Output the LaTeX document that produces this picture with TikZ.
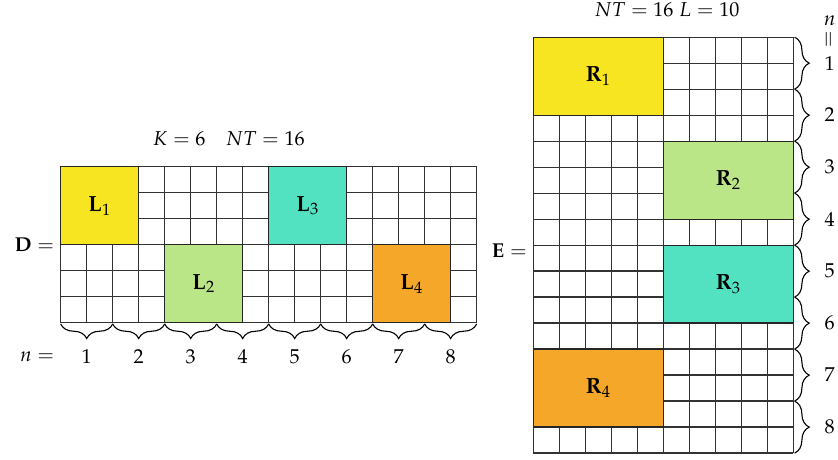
\documentclass[tikz,border=0pt]{standalone}
\usepackage{amsmath}
\usepackage{mathpazo}
\usetikzlibrary{decorations.pathreplacing}

\definecolor{blkyellow}{RGB}{246,229,32}
\definecolor{blkgreen}{RGB}{186,230,136}
\definecolor{blkteal}{RGB}{82,226,194}
\definecolor{blkorange}{RGB}{244,167,40}

\begin{document}
\begin{tikzpicture}[x=0.5cm, y=0.5cm, font=\fontsize{11}{13}\selectfont,
	gridline/.style={draw=black!80, line width=0.7pt},
	blockbox/.style={draw=black!85, line width=0.7pt},
	bracestyle/.style={decorate, decoration={brace, amplitude=8pt}, line width=0.6pt}]
	\useasboundingbox (-2.335,-5.28) rectangle (29.90,12.41);

	% Matriz D (16 x 6)
	\draw[gridline, step=1] (0,0) grid (16,6);
	\filldraw[blockbox, fill=blkyellow] (0,3) rectangle (3,6);
	\filldraw[blockbox, fill=blkgreen] (4,0) rectangle (7,3);
	\filldraw[blockbox, fill=blkteal] (8,3) rectangle (11,6);
	\filldraw[blockbox, fill=blkorange] (12,0) rectangle (15,3);
	\node (L1) at (1.5,4.5) {\large$\mathbf{L}_1$};
	\node (L2) at (5.5,1.5) {\large$\mathbf{L}_2$};
	\node (L3) at (9.5,4.5) {\large$\mathbf{L}_3$};
	\node (L4) at (13.5,1.5) {\large$\mathbf{L}_4$};

	\node[left] (Dlabel) at (0,3) {$\mathbf{D} =$};
	\node (Dtitle) at (6.47,7.07) {$K = 6 \quad NT = 16$};

	% Llaves inferiores
	\foreach \k in {1,...,8} {
		\draw[bracestyle, decoration={mirror}] ({2*\k-2},-0.05) -- ({2*\k},-0.05);
		\node (nb\k) at ({2*\k-1},-1.32) {$\k$};
	}
	\node (nbeq) at (-0.91,-1.32) {$n =$};

	% Matriz E (10 x 16)
	\begin{scope}[shift={(18.18,-5.02)}]
		\draw[gridline, step=1] (0,0) grid (10,16);
		\filldraw[blockbox, fill=blkyellow] (0,13) rectangle (5,16);
		\filldraw[blockbox, fill=blkgreen] (5,9) rectangle (10,12);
		\filldraw[blockbox, fill=blkteal] (5,5) rectangle (10,8);
		\filldraw[blockbox, fill=blkorange] (0,1) rectangle (5,4);
		\node (R1) at (2.5,14.5) {\large$\mathbf{R}_1$};
		\node (R2) at (7.5,10.5) {\large$\mathbf{R}_2$};
		\node (R3) at (7.5,6.5) {\large$\mathbf{R}_3$};
		\node (R4) at (2.5,2.5) {\large$\mathbf{R}_4$};

		\node[left] (Elabel) at (0,7.8) {$\mathbf{E} =$};
		\node (Etitle) at (5.14,17.07) {$NT = 16 \; L = 10$};

		% Llaves laterales
		\foreach \k in {1,...,8} {
			\draw[bracestyle] (10.05,{18-2*\k}) -- (10.05,{16-2*\k});
			\node (nr\k) at (11.4,{17-2*\k}) {$\k$};
		}
		\node (nrn) at (11.4,16.65) {$n$};
		\node[rotate=90] (nreq) at (11.4,15.9) {$=$};
	\end{scope}
\end{tikzpicture}
\end{document}
